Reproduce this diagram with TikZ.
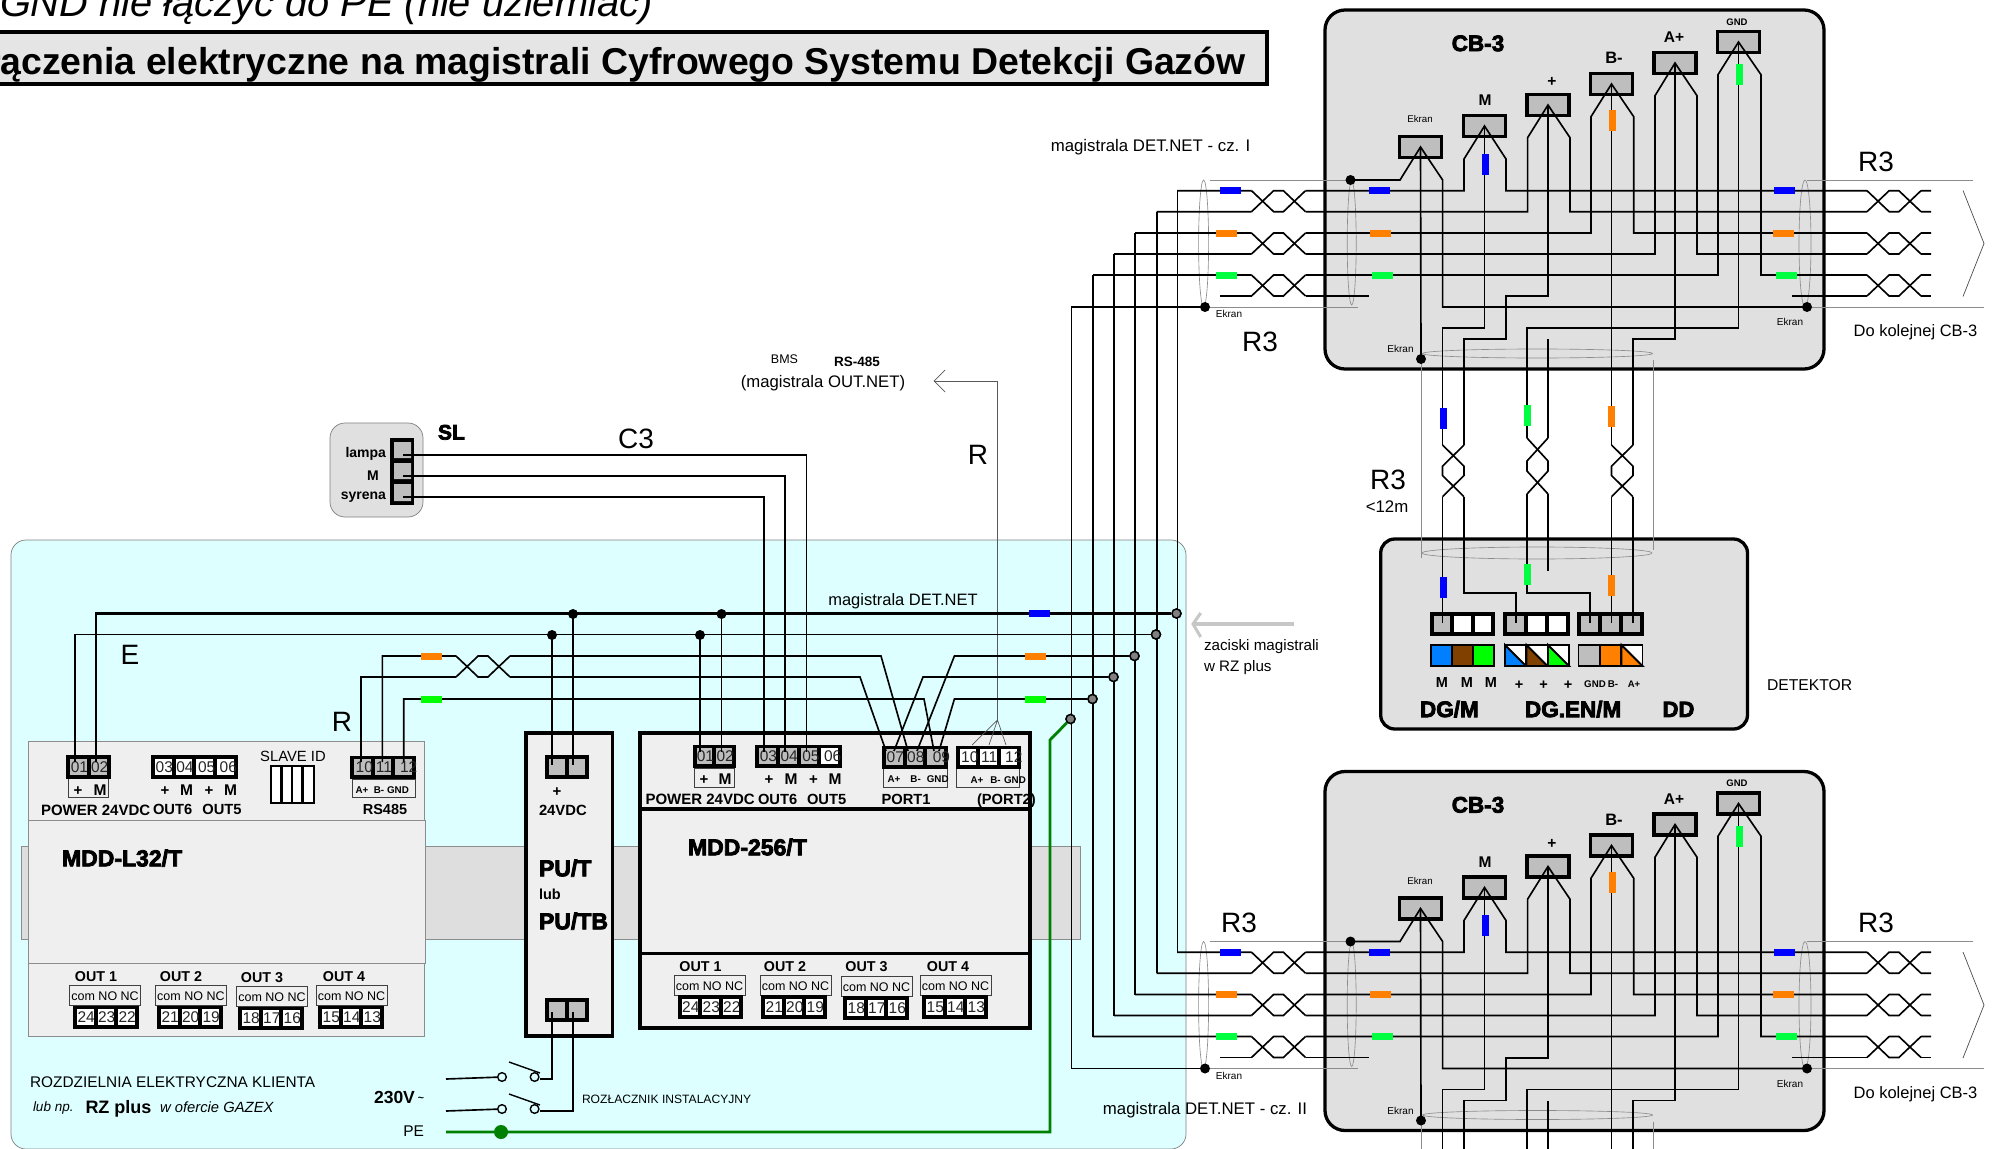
\documentclass[tikz,border=0pt]{standalone}
\usepackage{fontspec}
\setmainfont{Liberation Sans}
\newfontfamily\heavy[FakeBold=3.5]{Liberation Sans Bold}
\definecolor{panel}{HTML}{DDFFFF}
\definecolor{modfill}{HTML}{EFEFEF}
\definecolor{railc}{HTML}{DEDEDE}
\definecolor{boxc}{HTML}{E0E0E0}
\definecolor{tg}{HTML}{BEBEBE}
\definecolor{tblue}{HTML}{0000FF}
\definecolor{torange}{HTML}{FF8000}
\definecolor{tgreen}{HTML}{00FF40}
\definecolor{pegreen}{HTML}{008000}
\definecolor{dblue}{HTML}{0080FF}
\definecolor{dbrown}{HTML}{804000}
\definecolor{dgreen}{HTML}{00FF00}
\newcounter{tc}
\newcommand\px[1]{\fontsize{\fpeval{#1*0.8536}}{\fpeval{#1*0.95}}\selectfont}
\newcommand\putt[5]{\stepcounter{tc}\node[txt,anchor=#1] (t\the\value{tc}) at ({#2},{#3+0.36*#4}) {\px{#4}#5};}
\newcommand\Tc[4]{\putt{base}{#1}{#2}{#3}{#4}}
\newcommand\Tl[4]{\putt{base west}{#1}{#2}{#3}{#4}}
\newcommand\Tr[4]{\putt{base east}{#1}{#2}{#3}{#4}}
% terminal block: name,x0,x1,y0,n,spec
\newcommand\tblk[6]{%
 \fill[black] (#2,#4) rectangle (#3,{#4+23.5});
 \coordinate (#1) at ({(#2+#3)/2},{#4+11.5});
 \foreach[count=\kk from 0] \cf/\nm/\ofs in {#6} {
   \pgfmathsetmacro\cw{(#3-#2-8-(#5-1)*4)/#5}
   \pgfmathsetmacro\cx{#2+4+\kk*(\cw+4)}
   \fill[\cf] (\cx,{#4+3.5}) rectangle ({\cx+\cw},{#4+19.5});
   \Tc{\cx+\cw/2+\ofs}{#4+11.5}{15.5}{\color{black!85}\nm}
 }}
\newcommand\twH[3]{% x0,y1,y2
 \draw[wire] (#1,#2) -- ({#1+.41*54},#3) -- ({#1+.59*54},#3) -- ({#1+54},#2);
 \draw[wire] (#1,#3) -- ({#1+.41*54},#2) -- ({#1+.59*54},#2) -- ({#1+54},#3);}
\newcommand\twV[4]{% x1,x2,y0,h
 \draw[wire] (#1,#3) -- (#2,{#3+.41*#4}) -- (#2,{#3+.59*#4}) -- (#1,{#3+#4});
 \draw[wire] (#2,#3) -- (#1,{#3+.41*#4}) -- (#1,{#3+.59*#4}) -- (#2,{#3+#4});}
\newcommand\tagH[3]{\fill[#3] ({#1-10.5},{#2-3.5}) rectangle ({#1+10.5},{#2+3.5});}
\newcommand\tagV[3]{\fill[#3] ({#1-3.5},{#2-10.5}) rectangle ({#1+3.5},{#2+10.5});}
\newcommand\cbbox[2]{%
\begin{scope}[shift={(0,#1)}]
 \draw[cbframe] (1325,10) rectangle (1824,369);
 \node[cbt] (E#2) at (1420.5,147) {};
 \node[cbt] (M#2) at (1484.5,126) {};
 \node[cbt] (P#2) at (1548,105) {};
 \node[cbt] (B#2) at (1611.5,84) {};
 \node[cbt] (A#2) at (1675,63) {};
 \node[cbt] (G#2) at (1738.5,42) {};
 % shields
 \draw[shield] (1209.5,180) -- (1350,180) (1209.5,307) -- (1357.6,307);
 \draw[shield] (1807,180) -- (1973,180) (1807,307) -- (1984,307);
 \draw[shield] (1203.6,243.5) ellipse (5 and 63.5);
 \draw[shield] (1351.7,243) ellipse (4.5 and 62);
 \draw[shield] (1805,243.5) ellipse (6 and 63.5);
 \draw[shield] (1537.5,353.5) ellipse (115 and 4.5);
 \draw[shield] (1421.5,359) -- (1421.5,400) (1653.5,360) -- (1653.5,400);
 \draw[chev] (1963,190.5) -- (1984,243.5) -- (1963,296.5);
 % pairs
 \draw[wire] (1177,190.7) -- (1251.5,190.7) (1305.5,190.7) -- (1464,190.7) -- (1464,159) -- (M#2.center) -- (1506,159) -- (1506,190.7) -- (1867,190.7) (1921,190.7) -- (1931,190.7);
 \draw[wire] (1156.5,211.7) -- (1251.5,211.7) (1305.5,211.7) -- (1527.6,211.7) -- (1527.6,137.7) -- (P#2.center) -- (1570,137.7) -- (1570,211.7) -- (1867,211.7) (1921,211.7) -- (1931,211.7);
 \draw[wire] (1135,233) -- (1251.5,233) (1305.5,233) -- (1591,233) -- (1591,116.7) -- (B#2.center) -- (1633.7,116.7) -- (1633.7,233) -- (1867,233) (1921,233) -- (1931,233);
 \draw[wire] (1114,254) -- (1251.5,254) (1305.5,254) -- (1655,254) -- (1655,95.7) -- (A#2.center) -- (1697,95.7) -- (1697,254) -- (1867,254) (1921,254) -- (1931,254);
 \draw[wire] (1093,275) -- (1251.5,275) (1305.5,275) -- (1718,275) -- (1718,74.7) -- (G#2.center) -- (1761,74.7) -- (1761,275) -- (1867,275) (1921,275) -- (1931,275);
 \draw[wire] (1220,296) -- (1251.5,296) (1305.5,296) -- (1368.5,296) (1792,296) -- (1867,296) (1921,296) -- (1931,296);
 \twH{1251.5}{190.7}{211.7} \twH{1251.5}{233}{254} \twH{1251.5}{275}{296}
 \twH{1867}{190.7}{211.7} \twH{1867}{233}{254} \twH{1867}{275}{296}
 % screen
 \node[dot] (EL#2) at (1205,307) {};
 \node[dot] (ET#2) at (1350.5,180) {};
 \node[dot] (ER#2) at (1807,307) {};
 \node[dot] (EB#2) at (1421,359) {};
 \draw[wire] (1071,307) -- (EL#2.center);
 \draw[wire] (ET#2.center) -- (1400,180) -- (E#2.center) -- (1442.6,180) -- (1442.6,307) -- (ER#2.center);
 \draw[wire] (E#2.center) -- (EB#2.center);
 % centre wires
 \draw[wire] (M#2.center) -- (1484.5,328) -- (1442.5,328) -- (1442.5,400);
 \draw[wire] (P#2.center) -- (1548,296.3) -- (1506,296.3) -- (1506,339) -- (1464,339) -- (1464,400);
 \draw[wire] (1548,339) -- (1548,400);
 \draw[wire] (B#2.center) -- (1611.5,400);
 \draw[wire] (A#2.center) -- (1675,339) -- (1633,339) -- (1633,400);
 \draw[wire] (G#2.center) -- (1738.5,328) -- (1527,328) -- (1527,400);
 % tags
 \tagH{1230.7}{190.7}{tblue} \tagH{1226.5}{233}{torange} \tagH{1226.5}{275}{tgreen}
 \tagH{1379}{190.7}{tblue} \tagH{1380.5}{233}{torange} \tagH{1382.5}{275}{tgreen}
 \tagH{1784}{190.7}{tblue} \tagH{1783}{233}{torange} \tagH{1786}{275}{tgreen}
 \tagV{1485.5}{164}{tblue} \tagV{1612.7}{120.5}{torange} \tagV{1739.5}{74.5}{tgreen}
 % labels
 \Tc{1478}{43}{22.5}{\heavy CB-3}
 \Tc{1420}{119}{9.7}{Ekran}
 \Tc{1485}{100}{15.5}{\bfseries M}
 \Tc{1552}{81}{15.5}{\bfseries +}
 \Tc{1614}{58}{16.5}{\bfseries B-}
 \Tc{1674}{37}{15.5}{\bfseries A+}
 \Tc{1737}{22}{9.5}{\bfseries GND}
 \Tc{1229}{314}{10}{Ekran}
 \Tc{1790}{322}{10}{Ekran}
 \Tc{1400.5}{349}{10}{Ekran}
 \Tc{1915.5}{331}{16.5}{Do kolejnej CB-3}
\end{scope}}
\tikzset{
 txt/.style={inner sep=0pt,outer sep=0pt,text=black},
 wire/.style={line width=1.4pt,draw=black,line join=miter},
 hline/.style={line width=0.6pt,draw=black!65},
 shield/.style={line width=0.55pt,draw=black!45},
 chev/.style={line width=0.6pt,draw=black!70},
 dot/.style={circle,fill=black,inner sep=0pt,minimum size=0.3cm},
 gdot/.style={circle,fill=black!50,draw=black,line width=1.2pt,inner sep=0pt,minimum size=0.27cm},
 swc/.style={circle,draw=black,line width=1.2pt,fill=panel,inner sep=0pt,minimum size=0.26cm},
 cbframe/.style={draw=black,line width=2.8pt,fill=boxc,rounded corners=0.6cm},
 cbt/.style={draw=black,fill=tg,line width=3pt,inner sep=0pt,minimum width=1.26cm,minimum height=0.64cm},
 modthin/.style={draw=black!45,line width=0.6pt,fill=modfill},
 modthick/.style={draw=black,line width=3pt,fill=modfill},
 lbox/.style={draw=black!75,line width=0.8pt,fill=modfill},
 dcell/.style={draw=black,line width=1.6pt},
}
\begin{document}
\begin{tikzpicture}[x=0.03cm,y=-0.03cm]
\useasboundingbox (0,0) rectangle (2002,1149);
\fill[white] (0,0) rectangle (2002,1149);
% titles
\draw[line width=3.4pt,fill=black!10] (-20,32) rectangle (1266.6,84);
\Tr{1245.7}{60.7}{37.4}{\bfseries łączenia elektryczne na magistrali Cyfrowego Systemu Detekcji Gazów}
\Tl{0}{1.7}{39.8}{\itshape GND nie łączyć do PE (nie uziemiać)}
% panel
\draw[fill=panel,draw=black!50,line width=0.6pt,rounded corners=0.45cm] (11,540) rectangle (1186,1149);
% SL
\draw[fill=boxc,draw=black!50,line width=0.6pt,rounded corners=0.45cm] (330,423) rectangle (423,517);
\fill[black] (390,438) rectangle (414,505);
\fill[tg] (394,442) rectangle (411,458) (394,463) rectangle (411,479) (394,484) rectangle (411,501);
\coordinate (sla) at (403,455); \coordinate (slm) at (403,476); \coordinate (sls) at (403,497);
% rail
\draw[fill=railc,draw=black!45,line width=0.6pt] (21.4,846) rectangle (1080,939.3);
% MDD-L32
\draw[modthin] (28.5,741) rectangle (424,820);
\draw[modthin] (28.5,963) rectangle (424,1036);
\draw[modthin] (28.5,820) rectangle (425.5,963);
% PU
\draw[modthick,line width=3.4pt] (526,733) rectangle (612.5,1036);
% MDD-256
\draw[modthick] (640,733) rectangle (1030,1028);
\draw[line width=3pt] (640,809) -- (1030,809) (640,953.3) -- (1030,953.3);
% label boxes
\draw[lbox] (68.4,778) rectangle (108.7,797);
\draw[lbox] (352,779) rectangle (415.6,797);
\draw[lbox] (694,768) rectangle (734.5,787);
\draw[lbox] (883,768) rectangle (947,787);
\draw[lbox] (956,768) rectangle (1019.6,787);
% terminals
\tblk{a01}{66.4}{110.7}{755}{2}{tg/01/1,tg/02/1}
\tblk{a03}{151}{237.6}{755}{4}{white/03/1,white/04/1,white/05/2,white/06/3}
\tblk{a10}{350}{416}{755.5}{3}{tg/10/2,tg/11/1,tg/12/5}
\tblk{pt}{544.5}{589}{755}{2}{tg//0,tg//0}
\tblk{pb}{544.5}{589}{998}{2}{tg//0,tg//0}
\tblk{b01}{692.6}{736}{744.5}{2}{tg/01/1,tg/02/1}
\tblk{b03}{755}{842}{744.5}{4}{tg/03/1,tg/04/1,tg/05/2,white/06/3}
\tblk{b07}{882}{947.7}{745.5}{3}{tg/07/1,tg/08/1,tg/09/6}
\tblk{b10}{955.5}{1021}{745.5}{3}{white/10/2,white/11/1,white/12/5}
% SLAVE ID
\draw[draw=black,line width=1.8pt,fill=white] (271,766) rectangle (313.6,803);
\draw[black,line width=1.8pt] (281.5,766) -- (281.5,803) (292,766) -- (292,803) (302.5,766) -- (302.5,803);
% out blocks
\foreach \bx/\by/\nx/\ny/\sa/\sb/\sc in {69.6/985/73/1005.7/24/23/22,155.4/985/157/1005.7/21/20/19,236.5/986/238/1006.5/18/17/16,316/985/318/1005.7/15/14/13,674/975.7/677.5/995/24/23/22,760/975.7/761/995/21/20/19,841/976.7/843/996/18/17/16,920/975.7/922/995/15/14/13}{
 \draw[lbox] (\bx,\by) rectangle ({\bx+71},{\by+20});
 \Tc{\bx+35.5}{\by+10.5}{12.5}{com NO NC}
 \tblk{o\sa}{\nx}{\nx+65.5}{\ny}{3}{white/\sa/1,white/\sb/1,white/\sc/1}
}
% gray R fan and BMS arrow
\coordinate (fan) at (997.5,720);
\coordinate (bmsT) at (934,381);
\draw[hline] (fan) -- (997.5,381) -- (bmsT);
\draw[hline] (945,370) -- (bmsT) -- (945,392);
\draw[hline] (972,745) -- (fan) (989,745) -- (fan) (1006,745) -- (fan);
% gray arrow
\coordinate (zacT) at (1193,624);
\draw[draw=black!22,line width=2.6pt] (1294,624) -- (zacT);
\draw[draw=black!22,line width=2.6pt] (1200.7,613) -- (zacT) -- (1200.7,637);
% SL wires
\draw[wire] (sla) -- (806.5,455) -- (806.5,752);
\draw[wire] (slm) -- (785,476) -- (785,752);
\draw[wire] (sls) -- (764,497) -- (764,752);
% bus terminals
\node[gdot] (g1) at (1176.5,613.5) {};
\node[gdot] (g2) at (1156,634.5) {};
\node[gdot] (g3) at (1134.5,656) {};
\node[gdot] (g4) at (1113.5,677) {};
\node[gdot] (g5) at (1092.5,699) {};
\node[gdot] (g6) at (1070.5,719) {};
\draw[line width=2.4pt,draw=pegreen] (446,1132) -- (1050,1132) -- (1050,740) -- (g6);
\node[circle,fill=pegreen,inner sep=0pt,minimum size=0.42cm] (pedot) at (501,1132) {};
% long verticals
\draw[wire] (1177.5,190.7) -- (1177.5,952.2);
\draw[wire] (1156.7,211.7) -- (1156.7,973.2);
\draw[wire] (1135.3,233) -- (1135.3,994.5);
\draw[wire] (1114,254) -- (1114,1015.5);
\draw[wire] (1093,275) -- (1093,1036.5);
\draw[wire] (1071.5,307) -- (1071.5,1068.5);
\node[gdot] at (g1) {};\node[gdot] at (g2) {};\node[gdot] at (g3) {};\node[gdot] at (g4) {};\node[gdot] at (g5) {};\node[gdot] at (g6) {};
% bus
\node[dot] (k1) at (573,614) {};
\node[dot] (k2) at (721.5,614) {};
\node[dot] (k3) at (552,635) {};
\node[dot] (k4) at (700,635) {};
\draw[wire,line width=1.8pt] (96,762) -- (96,613.5) -- (g1);
\draw[wire] (75,762) -- (75,634.5) -- (g2);
\draw[wire] (k1.center) -- (573,765);
\draw[wire] (k3.center) -- (552,765);
\draw[wire] (k2.center) -- (721.5,752);
\draw[wire] (k4.center) -- (700,752);
\draw[wire] (382.4,762) -- (382.4,656) -- (456,656) (510,656) -- (881,656) -- (908,751);
\draw[wire] (361,762) -- (361,677) -- (456,677) (510,677) -- (860,677) -- (886,751);
\twH{456}{656}{677}
\draw[wire] (403.7,762) -- (403.7,699) -- (924,699) -- (934,751);
\draw[wire] (g3) -- (954.4,656) -- (917,751);
\draw[wire] (g4) -- (923,677) -- (894,751);
\draw[wire] (g5) -- (954.4,699) -- (939,751);
\tagH{431}{656.5}{torange} \tagH{431}{699}{dgreen}
\tagH{1039.5}{613.5}{tblue} \tagH{1035.5}{656.5}{torange} \tagH{1035.5}{699}{dgreen}
% switches
\node[swc] (s1a) at (502,1077) {};
\node[swc] (s1b) at (534.6,1077) {};
\node[swc] (s2a) at (502,1109) {};
\node[swc] (s2b) at (534.6,1109) {};
\draw[wire] (446,1079) -- (s1a);
\draw[wire] (446,1111) -- (s2a);
\draw[wire,line width=1.2pt] (509,1062) -- (540,1073);
\draw[wire,line width=1.2pt] (509,1094) -- (540,1105);
\draw[wire] (s1b) ++(5,2) -- (552,1079) -- (552,1012);
\draw[wire] (s2b) ++(5,2) -- (573,1111) -- (573,1012);
% CB-3 boxes
\cbbox{0}{t}
\cbbox{761.5}{b}
% detector
\draw[cbframe,rounded corners=0.42cm] (1380.7,539) rectangle (1747.5,729);
\draw[shield] (1537,553) ellipse (115 and 6);
\draw[shield] (1421.5,380) -- (1421.5,558) (1653.5,380) -- (1653.5,550);
\tblk{d1}{1429.8}{1495.4}{612}{3}{tg//0,white//0,white//0}
\tblk{d2}{1503.4}{1569.7}{612}{3}{tg//0,white//0,white//0}
\tblk{d3}{1577}{1643.7}{612}{3}{tg//0,tg//0,tg//0}
\draw[wire] (1442.5,390) -- (1442.5,445) (1442.5,496.7) -- (1442.5,623);
\draw[wire] (1464,390) -- (1464,445) (1464,496.7) -- (1464,592.7) -- (1516,592.7) -- (1516,623);
\draw[wire] (1527,390) -- (1527,438) (1527,494) -- (1527,592.7) -- (1590,592.7) -- (1590,623);
\draw[wire] (1548,390) -- (1548,438) (1548,494) -- (1548,571);
\draw[wire] (1611.5,390) -- (1611.5,445) (1611.5,496.7) -- (1611.5,623);
\draw[wire] (1633,390) -- (1633,445) (1633,496.7) -- (1633,623);
\twV{1442.5}{1464}{445}{51.7}
\twV{1527}{1548}{438}{56}
\twV{1611.5}{1633}{445}{51.7}
\tagV{1443}{418}{tblue} \tagV{1527}{415.5}{tgreen} \tagV{1611.5}{416.5}{torange}
\tagV{1443}{587.3}{tblue} \tagV{1527}{574.5}{tgreen} \tagV{1611.5}{585.5}{torange}
% colour row
\foreach \x/\col in {1431/dblue,1452.3/dbrown,1473.3/dgreen,1578.5/tg,1600/torange}{\draw[dcell,fill=\col] (\x,645) rectangle ({\x+21},666);}
\foreach \x/\col in {1505/dblue,1526.5/dbrown,1548/dgreen,1621.5/torange}{
 \draw[dcell,fill=white] (\x,645) rectangle ({\x+21},666);
 \fill[\col] (\x,645) -- ({\x+21},666) -- (\x,666) -- cycle;
 \draw[dcell] (\x,645) -- ({\x+21},666) -- (\x,666) -- cycle;}
% MDD-L32 texts
\Tc{78}{790}{15}{\bfseries +} \Tc{100}{790}{15.5}{\bfseries M}
\Tc{165}{790}{15}{\bfseries +} \Tc{186.6}{790}{15.5}{\bfseries M}
\Tc{209}{790}{15}{\bfseries +} \Tc{230.5}{790}{15.5}{\bfseries M}
\Tc{362}{790}{9.8}{\bfseries A+} \Tc{379}{790}{9.8}{\bfseries B-} \Tc{398}{790}{9.8}{\bfseries GND}
\Tl{41}{810}{15}{\bfseries POWER  24VDC}
\Tl{153}{809}{14.7}{\bfseries OUT6} \Tl{202.4}{809}{14.7}{\bfseries OUT5} \Tc{385}{809}{14.5}{\bfseries RS485}
\Tc{293}{756}{14.8}{SLAVE ID}
\Tl{62}{858}{23}{\heavy MDD-L32/T}
\Tc{96}{976}{14.3}{\bfseries OUT 1} \Tc{181}{976}{14.3}{\bfseries OUT 2} \Tc{262}{977}{14.3}{\bfseries OUT 3} \Tc{344}{976}{14.3}{\bfseries OUT 4}
\Tl{30}{1082}{15.4}{ROZDZIELNIA ELEKTRYCZNA KLIENTA}
\Tl{33}{1107}{13.5}{\itshape lub np.}
\Tl{85.5}{1107}{18}{\bfseries RZ plus}
\Tl{160}{1107}{14.8}{\itshape w ofercie GAZEX}
\Tr{424}{1097}{17.5}{\bfseries 230V\,\raisebox{0.1em}{\small\char`~}}
\Tr{424}{1131}{15.5}{PE}
\Tl{582}{1099}{12.1}{ROZŁACZNIK INSTALACYJNY}
% PU
\Tc{557}{791}{15}{\bfseries +}
\Tl{539}{810}{14.8}{\bfseries 24VDC}
\Tl{539}{868}{23}{\heavy PU/T}
\Tl{539}{894}{14.5}{\bfseries lub}
\Tl{539}{921}{23}{\heavy PU/TB}
% MDD-256 texts
\Tc{704}{779}{15}{\bfseries +} \Tc{725}{779}{15.5}{\bfseries M}
\Tc{769}{779}{15}{\bfseries +} \Tc{791}{779}{15.5}{\bfseries M}
\Tc{813.6}{779}{15}{\bfseries +} \Tc{835}{779}{15.5}{\bfseries M}
\Tc{894}{779}{9.8}{\bfseries A+} \Tc{915.6}{779}{9.8}{\bfseries B-} \Tc{937.7}{779}{9.8}{\bfseries GND}
\Tc{977}{780}{9.8}{\bfseries A+} \Tc{995.5}{780}{9.8}{\bfseries B-} \Tc{1015}{780}{9.8}{\bfseries GND}
\Tl{645.5}{799}{15}{\bfseries POWER  24VDC}
\Tl{758}{799}{14.7}{\bfseries OUT6} \Tl{807}{799}{14.7}{\bfseries OUT5}
\Tl{881.6}{799}{14.7}{\bfseries PORT1} \Tl{977}{799}{14.7}{\bfseries (PORT2)}
\Tl{688}{847}{23}{\heavy MDD-256/T}
\Tc{700.5}{966}{14.3}{\bfseries OUT 1} \Tc{785}{966}{14.3}{\bfseries OUT 2} \Tc{866.5}{966}{14.3}{\bfseries OUT 3} \Tc{948}{966}{14.3}{\bfseries OUT 4}
% SL texts
\Tl{438}{432}{21}{\heavy SL}
\Tr{386}{452}{14}{\bfseries lampa} \Tc{373}{475}{14}{\bfseries M} \Tr{386}{494}{14}{\bfseries syrena}
% free labels
\Tc{636}{438}{28}{C3}
\Tc{978}{454}{28}{R}
\Tc{342}{721}{28}{R}
\Tc{130}{654}{28}{E}
\Tc{784.5}{359}{12.5}{BMS}
\Tc{857}{362}{13.5}{\bfseries RS-485}
\Tc{823}{381}{16.7}{(magistrala OUT.NET)}
\Tc{903}{600}{16.5}{magistrala DET.NET}
\Tc{1150.5}{145.6}{16.8}{magistrala DET.NET - cz. I}
\Tc{1205}{1108}{16.8}{magistrala DET.NET - cz. II}
\Tl{1204}{645}{15.2}{zaciski magistrali}
\Tl{1204}{666}{15.2}{w RZ plus}
\Tc{1260}{341}{28}{R3}
\Tc{1876}{161}{28}{R3}
\Tc{1239}{922}{28}{R3}
\Tc{1876}{922}{28}{R3}
\Tc{1388}{479}{28}{R3}
\Tc{1387}{506}{16.8}{<12m}
\Tl{1767}{685}{15.7}{DETEKTOR}
% detector labels
\Tc{1442}{682.7}{14.5}{\bfseries M} \Tc{1467}{682.7}{14.5}{\bfseries M} \Tc{1491}{682.7}{14.5}{\bfseries M}
\Tc{1519}{684}{14.5}{\bfseries +} \Tc{1543.5}{684}{14.5}{\bfseries +} \Tc{1568}{684}{14.5}{\bfseries +}
\Tc{1595}{684}{9.7}{\bfseries GND} \Tc{1613}{684}{9.8}{\bfseries B-} \Tc{1634}{684}{9.5}{\bfseries A+}
\Tl{1420}{709}{22.5}{\heavy DG/M}
\Tl{1525}{709}{22.5}{\heavy DG.EN/M}
\Tl{1662.6}{709}{22}{\heavy DD}
\end{tikzpicture}
\end{document}
